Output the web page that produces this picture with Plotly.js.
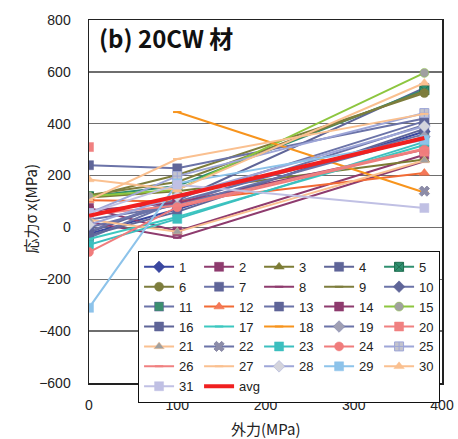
<!DOCTYPE html>
<html>
<head>
<meta charset="utf-8">
<script src="https://cdn.plot.ly/plotly-3.0.1.min.js"></script>
<style>html,body{margin:0;padding:0;background:#fff;}#chart{width:458px;height:439px;}</style>
</head>
<body>
<div id="chart"></div>
<script>
// External load (MPa) positions
var xLoad = [0, 100, 380];
// Stress σx (MPa) for each measurement series, at xLoad
var s1 = [-25, 70, 370];
var s2 = [75, -15, 280];
var s3 = [115, 140, 262];
var s4 = [-20, 105, 538];
var s5 = [120, 160, 530];
var s6 = [118, 202, 518];
var s7 = [240, 228, 420];
var s8 = [20, -40, 255];
var s9 = [125, 175, 525];
var s10 = [0, 90, 395];
var s11 = [-40, 100, 360];
var s12 = [105, 100, 210];
var s13 = [-15, 110, 410];
var s14 = [65, 95, 300];
var s15 = [120, 145, 596];
var s16 = [-30, 60, 380];
var s17 = [-45, 40, 318];
var s18 = [null, 445, 135];
var s19 = [30, 85, 350];
var s20 = [310, null, 292];
var s21 = [30, -17, 258];
var s22 = [null, null, 140];
var s23 = [-67, 33, 330];
var s24 = [-95, 78, 300];
var s25 = [55, 198, 441];
var s26 = [50, 85, 305];
var s27 = [105, 264, 438];
var s28 = [10, 120, 390];
var s29 = [-310, 170, 337];
var s30 = [185, 145, 557];
var s31 = [55, 165, 75];
var avg = [45, 120, 345];

var seriesNames = ['1','2','3','4','5','6','7','8','9','10','11','12','13','14','15','16','17','18','19','20','21','22','23','24','25','26','27','28','29','30','31'];
var seriesValues = [s1,s2,s3,s4,s5,s6,s7,s8,s9,s10,s11,s12,s13,s14,s15,s16,s17,s18,s19,s20,s21,s22,s23,s24,s25,s26,s27,s28,s29,s30,s31];

// styles: [lineColor, markerSymbol, markerFill, markerLine]
var styles = [
  ['#3A47A0','diamond','#3A47A0','#3A47A0'],
  ['#8E3B6E','square','#8E3B6E','#8E3B6E'],
  ['#7C7C35','triangle-up','#7C7C35','#7C7C35'],
  ['#5F6598','square','#5F6598','#5F6598'],
  ['#2F8F6F','square-x','#2F8F6F','#1F6F50'],
  ['#7D7D3C','circle','#7D7D3C','#7D7D3C'],
  ['#6B73A8','square','#5F6598','#5F6598'],
  ['#8E3B6E','line-ew','#8E3B6E','#8E3B6E'],
  ['#7D7D3C','line-ew','#7D7D3C','#7D7D3C'],
  ['#6B73A8','diamond','#5F6598','#5F6598'],
  ['#6B73A8','square','#3C8F6F','#5F6598'],
  ['#F26B35','triangle-up','#F4785A','#F26B35'],
  ['#6B73A8','square','#5F6598','#5F6598'],
  ['#8E3B6E','square','#8E3B6E','#8E3B6E'],
  ['#8DC63F','circle','#A0A0A0','#8DC63F'],
  ['#5F6598','square','#5F6598','#5F6598'],
  ['#3CC8C0','line-ew','#3CC8C0','#3CC8C0'],
  ['#F7941D','line-ew','#F7941D','#F7941D'],
  ['#6B73A8','diamond','#A0A0B4','#6B73A8'],
  ['#F08080','square','#F08080','#F08080'],
  ['#FAC090','triangle-up','#A0A0A0','#FAC090'],
  ['#6B73A8','x','#8C8CA8','#8C8CA8'],
  ['#3CBFBF','square','#3CBFBF','#3CBFBF'],
  ['#F07C7C','circle','#F07C7C','#F07C7C'],
  ['#9EA6D8','square-cross','#C4C4CC','#9EA6D8'],
  ['#F08080','line-ew','#F08080','#F08080'],
  ['#FAC090','line-ew','#FAC090','#FAC090'],
  ['#9EA6D8','diamond','#D4D4DC','#9EA6D8'],
  ['#8DC3EA','square','#8DC3EA','#8DC3EA'],
  ['#FAC090','triangle-up','#FAC090','#FAC090'],
  ['#C0C0E4','square','#C0C0E4','#C0C0E4']
];

var traces = seriesValues.map(function(vals, i) {
  var st = styles[i];
  var isDash = st[1] === 'line-ew';
  return {
    type: 'scatter',
    mode: 'lines+markers',
    name: seriesNames[i],
    x: xLoad,
    y: vals,
    connectgaps: false,
    line: {color: st[0], width: 2},
    marker: {
      symbol: st[1],
      size: isDash ? 6 : 9,
      color: st[2],
      line: {color: st[3], width: isDash ? 2 : (st[1] === 'x' || st[1] === 'square-x' || st[1] === 'square-cross' ? 1 : 0.5)}
    },
    hoverinfo: 'skip'
  };
});
traces.push({
  type: 'scatter', mode: 'lines', name: 'avg', x: xLoad, y: avg,
  line: {color: '#F02020', width: 4}, hoverinfo: 'skip'
});

var fontMain = 'Liberation Sans, Arial, sans-serif';
var fontCJK = '"Noto Sans CJK JP", "Noto Sans", sans-serif';

var layout = {
  width: 458, height: 439,
  margin: {l: 89, r: 16, t: 20, b: 56},
  paper_bgcolor: '#fff', plot_bgcolor: '#fff',
  showlegend: true,
  hovermode: false,
  font: {family: fontMain, size: 14, color: '#222'},
  xaxis: {
    range: [0, 400], tickvals: [0, 100, 200, 300, 400],
    showgrid: false, zeroline: false,
    showline: true, linecolor: '#222', linewidth: 1.5, mirror: true,
    ticks: '', ticklabelstandoff: 9,
    tickfont: {family: fontMain, size: 14, color: '#222'}
  },
  yaxis: {
    range: [-600, 800], tickvals: [-600, -400, -200, 0, 200, 400, 600, 800],
    ticktext: ['\u2212600', '\u2212400', '\u2212200', '0', '200', '400', '600', '800'],
    showgrid: true, gridcolor: '#6E6E6E', gridwidth: 1.5, zeroline: false,
    showline: true, linecolor: '#222', linewidth: 1.5, mirror: true,
    ticks: '', ticklabelstandoff: 14,
    tickfont: {family: fontMain, size: 14, color: '#222'}
  },
  legend: {
    orientation: 'h', x: 0.139, y: 0.364, xanchor: 'left', yanchor: 'top',
    bgcolor: '#fff', bordercolor: '#111', borderwidth: 1,
    entrywidth: 15, entrywidthmode: 'pixels', itemwidth: 30,
    traceorder: 'normal',
    font: {family: fontMain, size: 13, color: '#222'}
  },
  annotations: [
    {text: '<b>(b) 20CW 材</b>', xref: 'paper', yref: 'paper', x: 0.022, y: 0.953,
     xanchor: 'left', yanchor: 'middle', showarrow: false,
     font: {family: fontCJK, size: 24, color: '#111'}},
    {text: '応力σ x(MPa)', xref: 'paper', yref: 'paper', x: -0.165, y: 0.48,
     xanchor: 'center', yanchor: 'middle', textangle: -90, showarrow: false,
     font: {family: fontCJK, size: 15, color: '#222'}},
    {text: '外力(MPa)', xref: 'paper', yref: 'paper', x: 0.5, y: -0.125,
     xanchor: 'center', yanchor: 'middle', showarrow: false,
     font: {family: fontCJK, size: 15, color: '#222'}}
  ]
};

Plotly.newPlot('chart', traces, layout, {staticPlot: true, displayModeBar: false});
</script>
</body>
</html>
